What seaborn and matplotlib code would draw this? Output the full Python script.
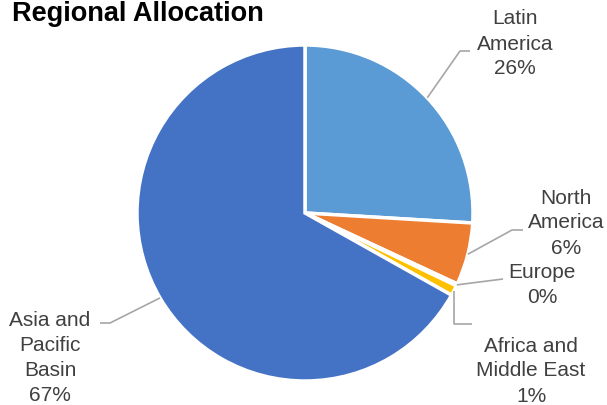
import numpy as np
import matplotlib
matplotlib.use("Agg")
import matplotlib.pyplot as plt
import seaborn as sns

# data
regions = ["Latin\nAmerica", "North\nAmerica", "Europe", "Africa and\nMiddle East", "Asia and\nPacific\nBasin"]
shares = [26, 6, 0.2, 1, 67]
colors = ["#5B9BD5", "#ED7D31", "#A5A5A5", "#FFC000", "#4472C4"]

sns.set_theme(style="white")
plt.rcParams["font.family"] = ["Liberation Sans", "DejaVu Sans"]

W, H = 607, 405
CX, CY, R = 305, 213, 168  # pie centre / radius in pixels


def to_data(px, py):
    return (px - CX) / R, (CY - py) / R


fig = plt.figure(figsize=(W / 100, H / 100), dpi=100)
ax = fig.add_axes([(CX - R) / W, (H - CY - R) / H, 2 * R / W, 2 * R / H])

wedges, _ = ax.pie(
    shares,
    colors=sns.color_palette(colors),
    startangle=90,
    counterclock=False,
    radius=1,
    wedgeprops=dict(edgecolor="white", linewidth=2.5),
)
ax.set_xlim(-1, 1)
ax.set_ylim(-1, 1)
ax.set_aspect("equal")
ax.axis("off")

# label layout (pixels)
label_pos = [(515, 44), (566, 223), (542, 285), (531, 371), (50, 358)]
leader = [
    [(460, 51), (470, 51)],
    [(512, 230), (523, 230)],
    [(503, 279)],
    [(None, 324), (472, 324)],
    [(110, 323), (100, 323)],
]

total = sum(shares)
for w, name, share, pos, path in zip(wedges, regions, shares, label_pos, leader):
    ang = np.deg2rad((w.theta1 + w.theta2) / 2)
    ax_x, ax_y = np.cos(ang), np.sin(ang)
    xs, ys = [ax_x], [ax_y]
    for px, py in path:
        dx, dy = to_data(px if px is not None else CX + ax_x * R, py)
        xs.append(dx)
        ys.append(dy)
    ax.plot(xs, ys, color="#A6A6A6", lw=1.2, clip_on=False, solid_capstyle="butt")
    tx, ty = to_data(*pos)
    ax.text(tx, ty, f"{name}\n{share / total * 100:.0f}%", ha="center", va="center",
            fontsize=15, color="#404040", linespacing=1.4, clip_on=False)

fig.text(12 / W, 1 - 21 / H, "Regional Allocation", fontweight="bold", fontsize=19.5,
         ha="left", va="baseline", color="black")

fig.savefig("out.png", dpi=100)
